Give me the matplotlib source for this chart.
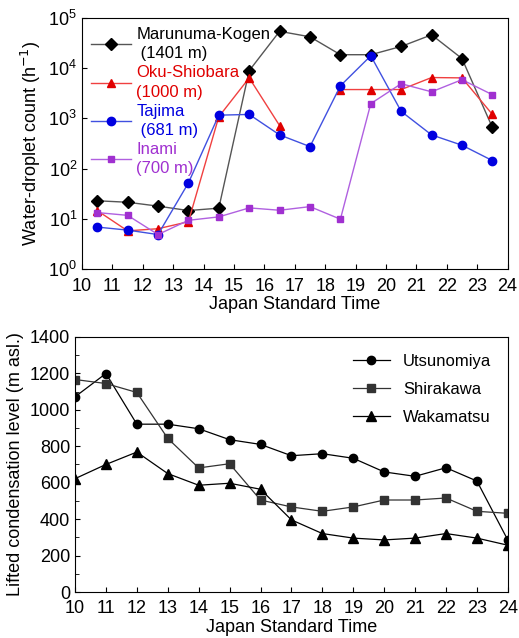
import numpy as np
import matplotlib as mpl
import matplotlib.pyplot as plt

mpl.rcParams.update({
    "font.family": ["Liberation Sans", "DejaVu Sans"],
    "xtick.direction": "in", "ytick.direction": "in",
    "xtick.labelsize": 13, "ytick.labelsize": 13,
    "axes.labelsize": 13,
    "xtick.major.pad": 6,
})

# top panel: hourly water-droplet counts (plotted at half hours)
hours_top = np.arange(10.5, 24, 1.0)
marunuma = [23, 21.5, 18, 14.7, 16.4, 8900, 54000, 42000, 18500, 18500, 27000, 46000, 15500, 660]
oku_shiobara = [14.7, 5.8, 6.4, 8.8, 1080, 6400, 720, np.nan, 3750, 3750, 3750, 6500, 6400, 1200]
tajima = [6.9, 6.0, 4.9, 52, 1160, 1200, 470, 275, 4450, 17600, 1380, 470, 293, 145]
inami = [13.4, 11.8, 4.9, 9.4, 11, 16.6, 14.9, 17.6, 9.9, 1970, 4900, 3380, 5900, 2960]

# bottom panel: lifted condensation level
hours_bot = np.arange(10, 25)
utsunomiya = [1071, 1199, 921, 921, 896, 836, 810, 748, 759, 734, 659, 635, 682, 609, 285]
shirakawa = [1166, 1144, 1095, 843, 681, 704, 505, 467, 443, 467, 505, 505, 516, 443, 432]
wakamatsu = [622, 700, 768, 650, 586, 597, 564, 396, 321, 296, 286, 296, 321, 296, 257]

fig = plt.figure(figsize=(5.19, 6.38), dpi=100)

ax1 = fig.add_axes([0.158, 0.578, 0.820, 0.394])
top_series = [
    (marunuma, "Marunuma-Kogen\n (1401 m)", "black", "D", "#555555"),
    (oku_shiobara, "Oku-Shiobara\n(1000 m)", "#e00000", "^", "#f04040"),
    (tajima, "Tajima\n (681 m)", "#0000e0", "o", "#4050e0"),
    (inami, "Inami\n(700 m)", "#a030d0", "s", "#b060e0"),
]
for vals, lab, col, mk, lcol in top_series:
    ax1.plot(hours_top, vals, color=lcol, lw=1.0, marker=mk, ms=6 if mk != "s" else 5,
             mfc=col, mec=col, label=lab)
ax1.set_yscale("log")
ax1.set_ylim(1, 1e5)
ax1.set_xlim(10, 24)
ax1.set_xticks(range(10, 25))
ax1.yaxis.set_minor_locator(mpl.ticker.NullLocator())
ax1.set_ylabel("Water-droplet count (h$^{-1}$)")
ax1.set_xlabel("Japan Standard Time", labelpad=1)
leg1 = ax1.legend(loc="upper left", frameon=False, fontsize=12, handlelength=2.4,
                  borderaxespad=0.15, labelspacing=0.25, handletextpad=0.3)
for txt, s in zip(leg1.get_texts(), top_series):
    txt.set_color(s[2])
    txt.set_linespacing(1.35)

ax2 = fig.add_axes([0.1445, 0.072, 0.834, 0.400])
ax2.plot(hours_bot, utsunomiya, color="black", lw=0.9, marker="o", ms=6, label="Utsunomiya")
ax2.plot(hours_bot, shirakawa, color="#333333", lw=0.9, marker="s", ms=6,
         mfc="#333333", mec="#333333", label="Shirakawa")
ax2.plot(hours_bot, wakamatsu, color="black", lw=0.9, marker="^", ms=6.5, label="Wakamatsu")
ax2.set_xlim(10, 24)
ax2.set_ylim(0, 1400)
ax2.set_xticks(range(10, 25))
ax2.set_yticks(range(0, 1401, 200))
ax2.yaxis.set_minor_locator(mpl.ticker.MultipleLocator(100))
ax2.tick_params(which="minor", direction="in", length=3)
ax2.set_ylabel("Lifted condensation level (m asl.)")
ax2.set_xlabel("Japan Standard Time", labelpad=1)
ax2.legend(loc="upper right", frameon=False, fontsize=12, handlelength=2.2,
           labelspacing=0.8, borderaxespad=0.6)

fig.savefig("out.png", dpi=100)
